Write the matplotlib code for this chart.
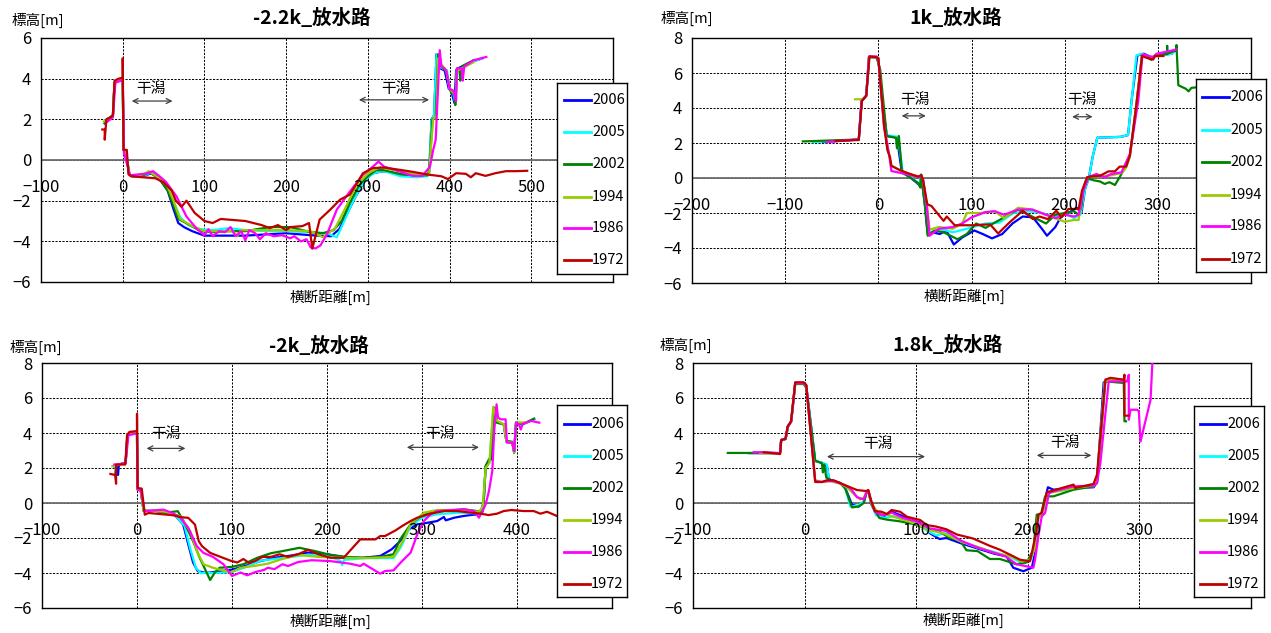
import matplotlib
matplotlib.use("Agg")
import matplotlib.pyplot as plt

plt.rcParams['font.family'] = ['Noto Sans CJK JP', 'DejaVu Sans']
plt.rcParams['axes.unicode_minus'] = True

W, H = 1271, 633

YEARS = ["2006", "2005", "2002", "1994", "1986", "1972"]
COLORS = ["#0000FF", "#00FFFF", "#008000", "#99CC00", "#FF00FF", "#C00000"]

TITLES = ["-2.2k_放水路", "1k_放水路", "-2k_放水路", "1.8k_放水路"]
YLABEL = "標高[m]"
XLABEL = "横断距離[m]"
TIDAL = "干潟"

A_XTICKS = [-100, 0, 100, 200, 300, 400, 500, 600]
B_XTICKS = [-200, -100, 0, 100, 200, 300, 400]
C_XTICKS = [-100, 0, 100, 200, 300, 400, 500]
D_XTICKS = [-100, 0, 100, 200, 300, 400]
A_YTICKS = [-6, -4, -2, 0, 2, 4, 6]
BCD_YTICKS = [-6, -4, -2, 0, 2, 4, 6, 8]

# ---------------- Panel A : -2.2k ----------------
A_2006 = [(-22,1.8),(-19,2.0),(-15,2.1),(-12,2.2),(-10,3.8),(-5,3.9),(0,4.0),(1,0.5),(4,0.4),(8,-0.7),
          (12,-0.8),(25,-0.8),(35,-0.65),(45,-0.9),(55,-1.5),(62,-2.4),(68,-3.1),(75,-3.3),(85,-3.5),(100,-3.72),
          (150,-3.72),(200,-3.6),(230,-3.7),(255,-3.75),(265,-3.4),(275,-2.6),(285,-1.8),(295,-1.1),(305,-0.65),(320,-0.55),
          (340,-0.7),(360,-0.8),(372,-0.75),(375,-0.6),(378,2.0),(381,2.2),(384,5.2),(386,4.6),(389,4.5),(394,4.4),
          (399,3.5),(402,3.4),(406,2.8),(408,4.4),(410,4.5),(415,4.6),(425,4.8),(440,5.0)]
A_2005 = [(-22,1.8),(-19,2.0),(-15,2.1),(-12,2.2),(-10,3.8),(-5,3.9),(0,4.0),(1,0.5),(4,0.4),(8,-0.7),(12,-0.8),
          (25,-0.8),(35,-0.6),(45,-0.85),(55,-1.4),(63,-2.1),(70,-2.8),(80,-3.2),(95,-3.4),(110,-3.45),(130,-3.35),
          (150,-3.45),(180,-3.5),(200,-3.5),(230,-3.55),(250,-3.6),(262,-3.8),(270,-3.1),(280,-2.2),(290,-1.4),(300,-0.85),
          (310,-0.6),(320,-0.55),(340,-0.8),(360,-0.85),(372,-0.8),(375,-0.6),(378,2.0),(381,2.2),(384,5.2),(387,4.6),
          (392,4.5),(397,4.4),(400,3.5),(404,3.4),(407,2.8),(409,4.4),(414,4.5),(425,4.8),(440,5.0)]
A_2002 = [(-22,1.8),(-19,2.0),(-15,2.1),(-12,2.2),(-10,3.8),(-5,3.9),(0,4.0),(1,0.5),(4,0.4),(8,-0.7),(12,-0.8),
          (25,-0.75),(33,-0.6),(45,-0.95),(55,-1.5),(62,-2.2),(68,-2.9),(80,-3.15),(95,-3.5),(110,-3.55),(130,-3.5),
          (150,-3.5),(180,-3.3),(205,-3.3),(230,-3.55),(245,-3.6),(258,-3.45),(268,-3.0),(278,-2.1),(290,-1.2),(300,-0.8),
          (310,-0.5),(320,-0.5),(340,-0.7),(360,-0.75),(374,-0.75),(376,0.0),(379,2.0),(383,2.1),(386,5.2),(390,4.6),
          (396,4.35),(399,3.7),(402,3.3),(406,3.3),(407,2.7),(409,4.5),(412,4.5),(413,3.9),(415,4.6),(429,4.9)]
A_1994 = [(-23,1.9),(-19,2.0),(-15,2.1),(-12,2.2),(-10,3.8),(-5,3.9),(0,4.0),(1,0.5),(4,0.4),(8,-0.7),(12,-0.8),
          (25,-0.7),(32,-0.55),(45,-0.9),(55,-1.3),(62,-2.0),(70,-2.9),(85,-3.25),(100,-3.5),(120,-3.5),(135,-3.5),
          (140,-3.75),(145,-3.45),(170,-3.45),(200,-3.45),(230,-3.5),(245,-3.8),(260,-3.35),(272,-2.4),(285,-1.3),(300,-0.65),
          (315,-0.35),(325,-0.45),(345,-0.6),(360,-0.7),(375,-0.7),(377,0.5),(380,2.0),(384,2.2),(386,5.0),(390,4.7),
          (396,4.4),(400,3.5),(405,3.3),(408,3.3),(409,4.4),(415,4.5),(429,4.8)]
A_1986 = [(-20,1.85),(-15,2.0),(-12,2.1),(-9,3.8),(-2,3.9),(0,4.0),(1.5,0.35),(9,-0.75),(29,-0.67),(37,-0.55),
          (45,-0.8),(53,-1.08),(66,-1.8),(78,-2.78),(90,-3.35),(100,-3.7),(105,-3.4),(110,-3.75),(118,-3.5),(125,-3.55),
          (132,-3.3),(138,-3.75),(145,-3.5),(150,-3.95),(155,-3.45),(162,-3.6),(168,-3.9),(175,-3.6),(185,-3.75),(195,-3.7),
          (205,-3.85),(210,-3.75),(218,-4.0),(225,-3.9),(230,-4.3),(236,-4.35),(242,-4.2),(250,-3.65),(262,-2.44),(278,-1.55),
          (294,-0.73),(306,-0.33),(313,-0.08),(320,-0.33),(334,-0.5),(355,-0.78),(367,-0.78),(371,-0.57),(376,-0.33),(380,0.5),
          (383,1.0),(388,5.4),(390,4.6),(394,4.5),(396,4.4),(400,3.5),(405,3.4),(408,2.9),(409,4.5),(415,4.5),
          (416,3.9),(418,4.6),(429,4.9),(445,5.07)]
A_1972 = [(-25,1.5),(-22,1.5),(-22,1.0),(-20,2.0),(-15,2.1),(-12,2.2),(-10,3.9),(-5,4.0),(0,4.05),(0,5.0),(1,0.5),
          (5,0.5),(7,-0.7),(10,-0.8),(40,-0.9),(50,-1.1),(60,-1.5),(65,-2.0),(72,-2.3),(78,-2.0),(88,-2.6),(100,-3.0),
          (110,-3.1),(120,-2.9),(150,-3.0),(170,-3.2),(180,-3.35),(190,-3.2),(200,-3.45),(205,-3.3),(220,-3.25),(228,-3.1),
          (232,-4.36),(241,-2.93),(254,-2.44),(266,-1.95),(278,-1.7),(294,-0.65),(306,-0.4),(320,-0.37),(350,-0.55),
          (376,-0.73),(390,-0.8),(398,-0.94),(408,-0.65),(420,-0.68),(426,-0.85),(432,-0.65),(444,-0.78),(456,-0.65),
          (469,-0.55),(481,-0.55),(495,-0.53)]

# ---------------- Panel B : 1k ----------------
B_2006 = [(-60,2.05),(-21,2.2),(-18,4.4),(-13,4.7),(-10,6.9),(-2,6.9),(0,6.8),(4,4.5),(9,2.4),(20,2.3),(25,0.4),
          (35,0.0),(44,-0.4),(46,0.15),(50,-1.5),(53,-3.2),(58,-3.1),(66,-3.2),(73,-3.0),(81,-3.8),(90,-3.4),(103,-3.0),
          (112,-3.2),(122,-3.45),(133,-3.2),(144,-2.6),(155,-2.2),(166,-2.25),(177,-3.0),(181,-3.3),(190,-2.8),(196,-2.2),
          (207,-1.9),(213,-1.7),(218,-2.0),(222,-0.6),(226,0.0),(230,1.2),(235,2.3),(260,2.35),(268,2.45),(272,4.5),
          (278,7.0),(285,7.1),(293,6.9),(300,7.0),(315,7.1)]
B_2005 = [(-70,2.05),(-21,2.2),(-18,4.4),(-13,4.7),(-10,6.9),(-2,6.9),(0,6.8),(4,4.5),(9,2.45),(21,2.35),(26,0.4),
          (35,0.05),(44,-0.35),(46,0.15),(50,-1.5),(55,-3.2),(65,-2.9),(80,-3.1),(95,-2.9),(105,-2.75),(115,-2.6),
          (130,-2.55),(145,-2.0),(160,-1.9),(175,-2.0),(190,-2.2),(200,-2.0),(210,-2.3),(217,-2.1),(222,-0.6),(226,0.0),
          (230,1.2),(235,2.3),(260,2.35),(268,2.45),(272,4.5),(277,7.0),(283,7.1),(293,6.85),(300,7.0),(315,7.1),(320,7.3)]
B_2002 = [(-81,2.09),(-21,2.2),(-18,4.4),(-13,4.7),(-10,6.9),(-2,6.9),(2,6.2),(9,2.4),(19,2.3),(20,1.7),(22,2.4),
          (25.5,0.3),(34,0.04),(43,-0.3),(45,-0.55),(46,0.2),(50,-1.6),(53,-3.3),(60,-3.0),(70,-3.1),(85,-3.5),(95,-3.2),
          (105,-2.6),(115,-2.85),(125,-2.55),(140,-2.1),(150,-1.8),(165,-2.2),(180,-2.6),(190,-2.1),(200,-2.0),(210,-1.9),
          (215,-2.1),(218,-1.6),(220,-0.7),(225,-0.03),(231,-0.13),(238,-0.2),(243,-0.34),(248,-0.24),(254,-0.4),
          (257,-0.13),(261,0.23),(264,0.6),(270,1.3),(277,4.2),(283,7.0),(288,6.9),(293,6.75),(297,7.0),(310,7.1),
          (310,7.55),(310,7.1),(320,7.3),(320,7.6),(322,5.3),(330,5.1),(333,4.95),(336,5.15),(345,5.2),(360,5.2)]
B_1994 = [(-25,4.5),(-17,4.5),(-13,4.7),(-10,6.9),(-2,6.9),(0,6.8),(6,3.0),(12,1.2),(14,0.7),(23,0.45),(32,0.25),
          (43,0.05),(46,0.15),(48,-0.1),(52,-1.5),(55,-2.95),(65,-2.8),(80,-2.9),(90,-2.6),(95,-2.0),(110,-2.0),
          (125,-1.9),(135,-2.3),(150,-1.7),(165,-1.8),(180,-2.1),(200,-2.5),(210,-2.4),(215,-2.4),(219,-0.8),(224,0.05),
          (235,0.1),(250,0.15),(262,0.3),(266,0.6),(270,1.2),(277,4.2),(283,7.0),(290,6.9),(300,7.0)]
B_1986 = [(-55,2.05),(-46,2.1),(-21,2.2),(-18,4.4),(-13,4.7),(-10,6.95),(-2,6.95),(0,6.85),(6,3.0),(12,1.2),
          (14,0.4),(23,0.3),(32,0.2),(43,0.05),(46,0.15),(48,-0.1),(52,-1.6),(55,-3.3),(65,-2.9),(80,-2.8),(90,-2.6),
          (100,-2.25),(115,-1.95),(125,-1.9),(135,-2.1),(150,-1.8),(165,-1.8),(175,-2.0),(190,-2.3),(200,-2.1),(210,-2.2),
          (215,-2.1),(220,-0.73),(225,0.04),(234,0.23),(243,0.04),(250,0.23),(261,0.32),(270,1.37),(279,4.4),(283.6,7.06),
          (288,7.0),(295,6.9),(298.6,7.1),(320,7.34)]
B_1972 = [(-46,2.12),(-21,2.17),(-17.6,4.4),(-13,4.7),(-9.4,6.95),(-2.3,6.9),(0,6.85),(6.5,2.85),(9.7,1.6),(12.5,1.2),
          (14,0.7),(23,0.45),(32,0.27),(43,0.08),(46,0.17),(48,-0.1),(52.5,-1.5),(57,-1.6),(70,-2.45),(73.5,-2.2),
          (82,-2.7),(100,-2.7),(120,-2.65),(128.6,-3.17),(141,-2.53),(155,-1.87),(166,-2.35),(173,-2.2),(182,-2.35),
          (191,-1.87),(196.6,-2.25),(204,-1.77),(215,-1.77),(218.6,-0.73),(224,0.04),(227,0.08),(238,0.13),(247,0.38),
          (254,0.38),(259,0.65),(266,0.65),(270,1.28),(277,4.2),(283,6.97),(288,6.87),(295,6.77),(297,6.97),(306,6.97)]

# ---------------- Panel C : -2k ----------------
C_2006 = [(-24,2.1),(-21,2.1),(-20,1.6),(-19,2.2),(-12,2.3),(-10,3.9),(-3,4.0),(0,4.0),(0.5,0.8),(4,0.7),(7,-0.45),
          (20,-0.45),(30,-0.55),(40,-0.7),(48.6,-1.23),(54,-2.37),(59,-3.4),(64,-3.9),(73,-4.0),(87,-3.9),(101,-3.8),
          (115.6,-3.57),(130,-3.32),(144.7,-3.13),(159,-3.03),(180,-2.84),(201,-2.93),(221,-3.13),(238,-3.13),(256,-3.03),
          (268,-2.65),(277,-2.18),(286,-1.51),(295,-1.22),(305.6,-1.13),(316,-1.03),(323,-0.8),(325,-0.99),(334,-0.84),
          (344,-0.74),(351,-0.69),(358,-0.65),(362,-0.5),(365,0.1),(367,2.1),(370,2.4),(373,2.5),(376.5,5.3),(379,4.6),
          (386,4.5),(389,3.5),(395,3.45),(397,2.9),(399,4.6),(406,4.5),(418,4.8)]
C_2005 = [(-24,2.1),(-19,2.2),(-12,2.3),(-10,3.9),(-3,4.0),(0,4.0),(0.5,0.8),(4,0.7),(7,-0.45),(20,-0.45),(30,-0.55),
          (40,-0.7),(50,-1.3),(56,-2.6),(62,-3.7),(67,-4.0),(80,-4.0),(100,-3.95),(115,-3.65),(130,-3.3),(160,-3.1),
          (180,-2.95),(200,-3.0),(214,-3.3),(216,-3.55),(218,-3.25),(240,-3.15),(270,-3.15),(278,-2.5),(288,-1.3),
          (300,-0.85),(315,-0.65),(340,-0.55),(360,-0.6),(364,-0.2),(367,2.0),(371,2.3),(375,5.3),(379,4.6),(386,4.5),
          (389,3.5),(395,3.45),(397,2.9),(399,4.6),(406,4.5),(418,4.8)]
C_2002 = [(-23,1.6),(-22,2.1),(-19,2.2),(-12,2.3),(-10,3.9),(-3,4.0),(0,4.0),(0.5,0.8),(4,0.7),(7,-0.45),(20,-0.45),
          (30,-0.55),(43,-0.47),(50,-1.13),(59,-2.18),(66,-3.13),(73,-3.94),(77,-4.4),(82,-3.97),(87,-3.7),(100,-3.65),
          (112,-3.5),(126.6,-3.13),(141,-2.87),(153,-2.75),(171,-2.56),(190,-2.78),(203.5,-2.97),(221,-3.08),(238.6,-3.13),
          (256,-3.08),(270,-2.93),(277,-2.08),(288,-1.22),(299,-0.74),(309,-0.55),(323,-0.46),(344,-0.36),(358,-0.46),
          (364,-0.5),(365,0.1),(367,2.1),(370.5,2.5),(372,2.5),(376.5,5.45),(379,4.59),(386,4.5),(388.8,3.55),(395,3.5),
          (397,2.87),(399,4.59),(406,4.5),(418,4.82)]
C_1994 = [(-26,2.1),(-19,2.2),(-12,2.3),(-10,3.9),(-3,4.0),(0,4.0),(0.5,0.8),(4,0.7),(7,-0.45),(20,-0.45),(30,-0.5),
          (45,-0.75),(56,-1.6),(63,-2.75),(70,-3.5),(80,-3.7),(98.6,-3.97),(109,-3.7),(123,-3.6),(137.6,-3.47),
          (151.6,-3.22),(169.6,-2.97),(190.6,-3.08),(215.8,-3.13),(240,-3.15),(270,-3.08),(279,-2.27),(288,-1.22),
          (302,-0.55),(316,-0.4),(344,-0.4),(360,-0.5),(364,-0.2),(367,2.0),(371,2.3),(375,5.5),(379,4.7),(386,4.5),
          (389,3.5),(395,3.45),(397,2.9),(399,4.6),(410,4.6)]
C_1986 = [(-24,2.2),(-19,2.2),(-12,2.3),(-9,3.87),(-2,3.96),(0,3.96),(0.5,0.76),(4,0.7),(8,-0.47),(28,-0.38),
          (37,-0.57),(45,-0.8),(54,-1.42),(63,-2.47),(70,-2.85),(80,-3.08),(91,-3.5),(100,-4.17),(109,-3.97),(116,-4.13),
          (125,-3.94),(134,-3.82),(137.6,-3.7),(144.7,-3.78),(153,-3.5),(159,-3.6),(169.6,-3.37),(184,-3.27),(203.5,-3.32),
          (224.5,-3.47),(235,-3.6),(238.6,-3.47),(245.6,-3.7),(256,-4.04),(261,-3.89),(270,-3.85),(279,-3.32),(288,-2.84),
          (295,-1.8),(302,-1.03),(309,-0.65),(316,-0.46),(344,-0.36),(355,-0.46),(360,-0.84),(363.7,-0.46),(367,-0.08),
          (370.5,0.69),(374,1.83),(376,4.11),(378.5,5.64),(380,4.88),(383,4.78),(388,4.78),(389.4,3.45),(395,3.45),
          (397,2.97),(399,4.59),(402,4.5),(404,4.2),(406,4.53),(415,4.69),(423.5,4.59)]
C_1972 = [(-28,1.66),(-23,1.6),(-22,1.1),(-22,2.2),(-12.3,2.2),(-10.5,3.87),(-8,4.06),(-2,4.1),(0,4.1),(0,5.1),
          (0.7,0.86),(5,0.82),(8.2,-0.67),(12,-0.57),(38,-0.7),(45,-0.8),(54,-0.85),(61,-1.23),(65,-2.18),(68.5,-2.47),
          (77,-2.85),(88,-3.08),(98.6,-3.3),(105.6,-3.4),(112,-3.2),(118,-3.43),(125,-3.3),(132,-3.08),(141,-3.08),
          (150,-2.93),(159,-3.08),(169.6,-2.93),(180,-2.68),(191,-2.93),(203.5,-3.13),(217.5,-3.13),(235,-2.08),
          (251,-2.08),(256,-1.89),(261,-1.89),(272,-1.57),(279,-1.32),(288,-1.03),(295,-0.84),(309,-0.61),(323,-0.46),
          (337,-0.46),(351,-0.55),(362,-0.61),(370,-0.69),(379,-0.61),(386,-0.46),(394,-0.4),(407,-0.46),(417.6,-0.46),
          (424.6,-0.61),(431.6,-0.5),(442,-0.74),(455,-0.6),(470,-0.7)]

# ---------------- Panel D : 1.8k ----------------
D_2006 = [(-50,2.85),(-22,2.85),(-21,3.6),(-17,3.66),(-15,4.37),(-12,4.66),(-8.4,6.85),(-1,6.85),(1.5,6.7),(9.5,2.4),
          (15.5,2.3),(17,2.2),(20,2.1),(21.6,1.45),(23,1.3),(32,1.14),(36.5,0.85),(42.5,-0.1),(48.5,-0.2),(53,0.05),
          (55.8,0.68),(57,0.7),(60,-0.05),(64,-0.6),(70,-0.8),(78,-0.5),(86,-0.7),(97,-1.0),(103,-1.1),(112.5,-1.74),
          (121,-2.06),(127,-2.0),(140,-2.3),(155,-2.6),(170,-2.9),(181,-3.05),(187,-3.7),(196,-3.9),(203.6,-3.7),
          (206.5,-2.86),(209.5,-0.76),(213,-0.55),(218,0.9),(223,0.76),(240,0.85),(259,0.9),(262,1.2),(268,6.9),
          (274,7.0),(286,6.95)]
D_2005 = [(-45,2.9),(-22,2.85),(-21,3.6),(-17,3.66),(-15,4.37),(-12,4.66),(-8.4,6.85),(-1,6.85),(1.5,6.7),(9.5,2.4),
          (15.5,2.3),(20,2.2),(21.6,1.45),(23,1.3),(32,1.14),(36.5,0.85),(41,-0.2),(48,-0.15),(53,0.1),(55.8,0.68),
          (57,0.7),(60,-0.1),(64,-0.7),(72,-0.85),(80,-0.75),(90,-0.95),(100,-1.1),(110,-1.6),(118,-1.85),(128,-1.7),
          (140,-2.2),(155,-2.55),(170,-2.8),(185,-3.1),(195,-3.45),(203,-3.2),(206,-2.5),(209,-0.9),(213,-0.6),
          (218,0.6),(240,0.8),(259,0.95),(262,1.3),(269,6.9),(275,7.0),(286,6.95)]
D_2002 = [(-68.8,2.86),(-45.6,2.86),(-22,2.85),(-21,3.6),(-17,3.66),(-15,4.37),(-12,4.66),(-8.4,6.8),(-1,6.8),
          (1.5,6.6),(9.5,2.42),(15.5,2.27),(16.4,1.75),(17.6,2.2),(19.4,1.45),(23,1.33),(32,1.14),(36.5,0.82),
          (42.5,-0.25),(48.5,-0.2),(53,0.0),(55.8,0.68),(57,0.68),(60,-0.1),(67,-0.86),(73.7,-0.95),(85.6,-1.05),
          (97.6,-1.2),(109.5,-1.45),(121,-1.64),(130,-2.0),(139,-2.1),(145,-2.7),(155,-2.75),(166,-3.2),(175,-3.2),
          (190,-3.5),(199,-3.4),(205,-2.67),(208,-0.67),(212,-0.6),(215.5,0.38),(223,0.38),(241,0.76),(258.9,0.95),
          (262,1.14),(269.5,6.95),(286,6.86),(286.6,4.67),(288,4.67)]
D_1994 = [(-40,2.85),(-22,2.85),(-21,3.6),(-17,3.66),(-15,4.37),(-12,4.66),(-8.4,6.85),(-1,6.85),(1.5,6.7),(9.5,1.3),
          (15.5,1.2),(23,1.25),(32,1.1),(38,0.9),(45,0.45),(50,0.2),(53,0.3),(55.8,0.68),(57,0.7),(60,-0.05),(66,-0.55),
          (75,-0.7),(88,-0.95),(100,-1.2),(112,-1.55),(125,-1.75),(140,-2.2),(155,-2.5),(170,-2.85),(185,-3.05),
          (195,-3.35),(202,-3.24),(206.5,-2.57),(209,-0.8),(213,-0.6),(217,0.55),(241,0.85),(259,1.0),(262,1.3),
          (269,6.95),(276,7.05),(286,7.0)]
D_1986 = [(-45.6,2.9),(-36.7,2.9),(-22,2.85),(-21,3.6),(-17,3.66),(-15,4.37),(-12,4.66),(-8.4,6.85),(-1,6.85),
          (1.5,6.7),(9.5,1.25),(15.5,1.2),(20,1.25),(26,1.25),(35,1.05),(41,0.85),(47,0.33),(53,0.2),(55.8,0.68),
          (57,0.74),(60,0.0),(63,-0.5),(70,-0.7),(78,-0.55),(88,-0.85),(100,-1.05),(112,-1.45),(127,-1.6),(140,-2.15),
          (155,-2.55),(170,-2.85),(180,-3.05),(190,-3.5),(205,-3.7),(206.5,-3.24),(209.5,-1.9),(212.5,-0.76),
          (215.5,-0.57),(219,0.57),(223,0.67),(241,0.95),(258.9,0.99),(262,1.14),(265,2.28),(272.5,6.95),(280,6.95),
          (289,6.95),(290.5,7.33),(290.5,4.76),(292,5.33),(298,5.33),(299.5,5.24),(301,3.52),(310,5.9),(312,8.5)]
D_1972 = [(-36.7,2.9),(-22,2.8),(-20.9,3.6),(-17.3,3.66),(-15.2,4.37),(-12.2,4.66),(-8.4,6.9),(-0.9,6.9),(1.5,6.75),
          (9.5,1.2),(15.5,1.2),(20,1.3),(26,1.3),(35,1.05),(47,0.74),(55.8,0.68),(57,0.74),(60,0.07),(63,-0.46),
          (69,-0.5),(73.7,-0.63),(78,-0.4),(85.6,-0.5),(91.6,-0.78),(97.6,-0.88),(103.5,-0.97),(109.5,-1.26),(118,-1.35),
          (127,-1.5),(136.4,-1.8),(151,-2.03),(166,-2.45),(175,-2.67),(184,-2.95),(193,-3.24),(202,-3.33),(207.5,-1.71),
          (209.5,-0.67),(212.5,-0.57),(217,0.61),(223,0.72),(241,1.05),(242.5,0.86),(258.9,1.09),(262,1.62),(269.5,7.05),
          (274,7.15),(286,7.05),(286.6,7.33),(286.6,4.99),(290.5,4.99)]

# tidal-flat annotations: (x_start, x_end, y_arrow, x_text, y_text)
A_TIDAL = [(11, 61, 2.9, 35, 3.5), (289, 375, 2.96, 334, 3.5)]
B_TIDAL = [(25, 51, 3.55, 38.7, 4.45), (208, 230, 3.5, 218.6, 4.45)]
C_TIDAL = [(10, 51, 3.12, 30, 3.95), (284, 360, 3.18, 319, 3.95)]
D_TIDAL = [(20, 108, 2.65, 66, 3.35), (208, 257, 2.72, 233, 3.45)]

fig = plt.figure(figsize=(W / 100, H / 100), dpi=100)


def rect(l, t, r, b):
    return [l / W, 1 - b / H, (r - l) / W, (b - t) / H]


def mfmt(v):
    return str(v).replace('-', '\u2212')


panels = [
    dict(title=TITLES[0], series=[A_2006, A_2005, A_2002, A_1994, A_1986, A_1972], xlim=(-100, 600), ylim=(-6, 6),
         xt=A_XTICKS, yt=A_YTICKS, box=(41, 38, 613, 282), tidal=A_TIDAL,
         title_xy=(312, 18), ylab_xy=(38, 20), xlab_xy=(330, 297),
         leg=(557, 83, 627, 274), leg_y=[100, 132, 164, 197, 228, 260], leg_line=(564, 591), leg_tx=592),
    dict(title=TITLES[1], series=[B_2006, B_2005, B_2002, B_1994, B_1986, B_1972], xlim=(-200, 400), ylim=(-6, 8),
         xt=B_XTICKS, yt=BCD_YTICKS, box=(692, 38, 1251, 283), tidal=B_TIDAL,
         title_xy=(956, 18), ylab_xy=(687, 18), xlab_xy=(964, 296),
         leg=(1196, 79, 1266, 272), leg_y=[97, 130, 162, 195, 226, 259], leg_line=(1202, 1229), leg_tx=1230),
    dict(title=TITLES[2], series=[C_2006, C_2005, C_2002, C_1994, C_1986, C_1972], xlim=(-100, 500), ylim=(-6, 8),
         xt=C_XTICKS, yt=BCD_YTICKS, box=(42, 363, 612, 608), tidal=C_TIDAL,
         title_xy=(319, 346), ylab_xy=(36, 347), xlab_xy=(330, 621),
         leg=(557, 405, 627, 597), leg_y=[424, 456, 488, 520, 552, 584], leg_line=(564, 590), leg_tx=591),
    dict(title=TITLES[3], series=[D_2006, D_2005, D_2002, D_1994, D_1986, D_1972], xlim=(-100, 400), ylim=(-6, 8),
         xt=D_XTICKS, yt=BCD_YTICKS, box=(693, 363, 1251, 608), tidal=D_TIDAL,
         title_xy=(948, 345), ylab_xy=(686, 345), xlab_xy=(963, 620),
         leg=(1194, 406, 1264, 597), leg_y=[424, 456, 488, 520, 552, 584], leg_line=(1200, 1226), leg_tx=1227),
]

for p in panels:
    ax = fig.add_axes(rect(*p['box']))
    ax.set_xlim(*p['xlim'])
    ax.set_ylim(*p['ylim'])
    ax.set_xticks(p['xt'])
    ax.set_yticks(p['yt'])
    ax.set_yticklabels([mfmt(v) for v in p['yt']])
    ax.tick_params(axis='x', length=0, labelbottom=False)
    ax.tick_params(axis='y', length=0, pad=7, labelsize=12)
    ax.grid(True, color='black', linestyle=(0, (2.2, 1.4)), linewidth=0.7)
    for s in ax.spines.values():
        s.set_color('black')
        s.set_linewidth(1.0)
    ax.axhline(0, color='#6e6e6e', linewidth=1.3, zorder=2.5)
    for data, col in zip(p['series'], COLORS):
        xs = [d[0] for d in data]
        ys = [d[1] for d in data]
        ax.plot(xs, ys, color=col, linewidth=1.6, zorder=3, solid_joinstyle='round')
    # x tick labels sitting under the zero line
    for v in p['xt'][:-1]:
        ax.annotate(mfmt(v), xy=(v, 0), xytext=(0, -19.5), textcoords='offset points',
                    ha='center', va='center', fontsize=12, zorder=6, annotation_clip=False)
    for (x0, x1, ya, xt_, yt_) in p['tidal']:
        ax.annotate('', xy=(x1, ya), xytext=(x0, ya),
                    arrowprops=dict(arrowstyle='<->', color='#404040', lw=0.9,
                                    shrinkA=0, shrinkB=0, mutation_scale=9), zorder=5)
        ax.text(xt_, yt_, TIDAL, ha='center', va='center', fontsize=10.5, zorder=5)
    fig.text(p['title_xy'][0] / W, 1 - p['title_xy'][1] / H, p['title'], ha='center', va='center',
             fontsize=14, fontweight='bold')
    fig.text(p['ylab_xy'][0] / W, 1 - p['ylab_xy'][1] / H, YLABEL, ha='center', va='center', fontsize=10.5)
    fig.text(p['xlab_xy'][0] / W, 1 - p['xlab_xy'][1] / H, XLABEL, ha='center', va='center', fontsize=10.5)

    # legend box
    l, t, r, b = p['leg']
    lax = fig.add_axes(rect(l, t, r, b), zorder=10)
    lax.set_xlim(l, r)
    lax.set_ylim(b, t)
    lax.set_xticks([])
    lax.set_yticks([])
    lax.set_facecolor('white')
    for s in lax.spines.values():
        s.set_color('black')
        s.set_linewidth(1.0)
    for yy, yr, col in zip(p['leg_y'], YEARS, COLORS):
        lax.plot(p['leg_line'], [yy, yy], color=col, linewidth=2.0)
        lax.text(p['leg_tx'], yy, yr, ha='left', va='center', fontsize=10.5)

fig.savefig('out.png', dpi=100)
